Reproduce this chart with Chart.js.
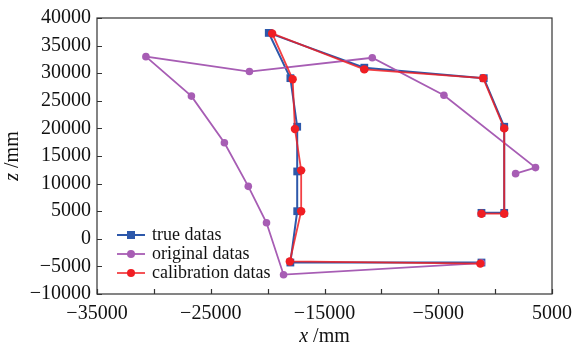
<!DOCTYPE html>
<html>
<head>
<meta charset="utf-8">
<script src="https://cdn.jsdelivr.net/npm/chart.js@4.4.1/dist/chart.umd.min.js"></script>
<style>
  html, body { margin: 0; padding: 0; background: #fff; }
  #wrap { width: 580px; height: 349px; }
</style>
</head>
<body>
<div id="wrap"><canvas id="chart"></canvas></div>
<script>
// values (mm)
const trueX = [-1200, 800, 800, -1000, -11500, -19900, -18000, -17400, -17400, -17400, -18000, -1200];
const trueZ = [4700, 4700, 20300, 29100, 31000, 37300, 29100, 20300, 12200, 5000, -4300, -4300];
const origX = [1800, 3550, -4500, -10800, -21600, -30700, -26700, -23800, -21700, -20100, -18600, -1200];
const origZ = [11800, 12900, 26000, 32800, 30300, 33000, 25850, 17400, 9500, 2900, -6500, -4400];
const calX = [-1200, 800, 800, -1050, -11500, -19600, -17800, -17600, -17050, -17050, -18050, -1300];
const calZ = [4550, 4550, 20000, 29100, 30700, 37200, 28900, 19900, 12400, 5000, -4100, -4500];
const seriesNames = ['true datas', 'original datas', 'calibration datas'];

const serif = '"Liberation Serif", "DejaVu Serif", serif';

function toPoints(xs, zs) {
    return xs.map((x, i) => ({ x: x, y: zs[i] }));
}
function fmt(v) {
    return String(v).replace('-', '\u2212');
}

// frame, inward ticks, axis titles and legend
const decor = {
    id: 'decor',
    afterDraw(chart) {
        const ctx = chart.ctx;
        const a = chart.chartArea;
        const xs = chart.scales.x, ys = chart.scales.y;
        ctx.save();
        ctx.strokeStyle = '#333';
        ctx.lineWidth = 1.2;
        ctx.strokeRect(a.left, a.top, a.right - a.left, a.bottom - a.top);
        ctx.beginPath();
        xs.ticks.forEach(t => {
            const px = Math.round(xs.getPixelForValue(t.value)) + 0.5;
            ctx.moveTo(px, a.bottom);
            ctx.lineTo(px, a.bottom - 5);
        });
        ys.ticks.forEach(t => {
            const py = Math.round(ys.getPixelForValue(t.value)) + 0.5;
            ctx.moveTo(a.left, py);
            ctx.lineTo(a.left + 5, py);
        });
        ctx.stroke();

        // axis titles, italic letter + upright unit
        ctx.fillStyle = '#111';
        ctx.textBaseline = 'middle';
        const drawTitle = (letter, cx, cy) => {
            ctx.font = 'italic 20px ' + serif;
            const w1 = ctx.measureText(letter).width;
            ctx.font = '20px ' + serif;
            const w2 = ctx.measureText(' /mm').width;
            let x0 = cx - (w1 + w2) / 2;
            ctx.font = 'italic 20px ' + serif;
            ctx.fillText(letter, x0, cy);
            ctx.font = '20px ' + serif;
            ctx.fillText(' /mm', x0 + w1, cy);
        };
        ctx.textAlign = 'left';
        drawTitle('x', (a.left + a.right) / 2, 337);
        ctx.save();
        ctx.translate(13, (a.top + a.bottom) / 2);
        ctx.rotate(-Math.PI / 2);
        drawTitle('z', 0, 0);
        ctx.restore();

        // legend, bottom left inside the plot
        const rows = [235, 254, 273];
        chart.data.datasets.forEach((ds, i) => {
            const y = rows[i];
            ctx.strokeStyle = ds.borderColor;
            ctx.lineWidth = ds.borderWidth;
            ctx.beginPath();
            ctx.moveTo(117, y);
            ctx.lineTo(145, y);
            ctx.stroke();
            ctx.fillStyle = ds.backgroundColor;
            if (ds.pointStyle === 'rect') {
                ctx.fillRect(127, y - 4, 8, 8);
            } else {
                ctx.beginPath();
                ctx.arc(131, y, 4, 0, Math.PI * 2);
                ctx.fill();
            }
            ctx.fillStyle = '#111';
            ctx.font = '18px ' + serif;
            ctx.textAlign = 'left';
            ctx.fillText(ds.label, 152, y);
        });
        ctx.restore();
    }
};

new Chart(document.getElementById('chart'), {
    type: 'scatter',
    data: {
        datasets: [{
            label: seriesNames[0],
            data: toPoints(trueX, trueZ),
            showLine: true,
            borderColor: '#2d58aa',
            backgroundColor: '#2d58aa',
            borderWidth: 2,
            pointStyle: 'rect',
            pointRadius: 5.5,
            pointBorderWidth: 0,
            order: 2
        }, {
            label: seriesNames[1],
            data: toPoints(origX, origZ),
            showLine: true,
            borderColor: '#a75db4',
            backgroundColor: '#a75db4',
            borderWidth: 1.8,
            pointStyle: 'circle',
            pointRadius: 3.8,
            pointBorderWidth: 0,
            order: 1
        }, {
            label: seriesNames[2],
            data: toPoints(calX, calZ),
            showLine: true,
            borderColor: 'rgba(240, 30, 35, 0.85)',
            backgroundColor: '#f01e23',
            borderWidth: 1.8,
            pointStyle: 'circle',
            pointRadius: 4.2,
            pointBorderWidth: 0,
            order: 0
        }]
    },
    options: {
        responsive: true,
        maintainAspectRatio: false,
        animation: false,
        layout: { padding: { top: 15, right: 27, left: 0, bottom: 0 } },
        plugins: {
            legend: { display: false },
            tooltip: { enabled: false }
        },
        scales: {
            x: {
                type: 'linear',
                min: -35000,
                max: 5000,
                border: { display: false },
                grid: { display: false, drawTicks: false },
                ticks: {
                    stepSize: 5000,
                    autoSkip: false,
                    maxRotation: 0,
                    padding: 8,
                    color: '#111',
                    font: { family: serif, size: 20 },
                    callback: function(value) {
                        return value % 10000 !== 0 ? fmt(value) : '';
                    }
                },
                afterFit: function(scale) { scale.height = 55; }
            },
            y: {
                type: 'linear',
                min: -10000,
                max: 40000,
                border: { display: false },
                grid: { display: false, drawTicks: false },
                ticks: {
                    stepSize: 5000,
                    autoSkip: false,
                    padding: 6,
                    color: '#111',
                    font: { family: serif, size: 20 },
                    callback: function(value) { return fmt(value); }
                },
                afterFit: function(scale) { scale.width = 97; }
            }
        }
    },
    plugins: [decor]
});
</script>
</body>
</html>
